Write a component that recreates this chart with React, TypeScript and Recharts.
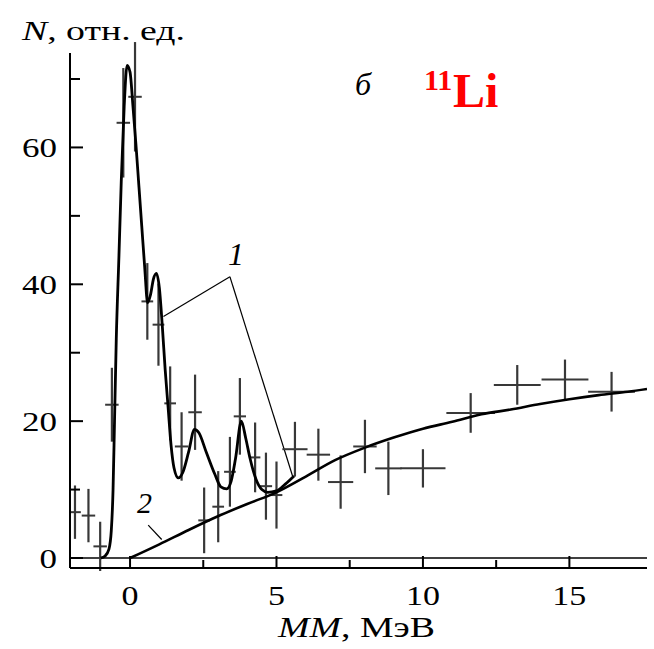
import { ComposedChart, Line, Scatter, ErrorBar, XAxis, YAxis, ReferenceLine } from 'recharts'

// curve 1 — resonance fit
const fitMM = [-1.0, -0.85, -0.72, -0.64, -0.58, -0.53, -0.47, -0.38, -0.3, -0.2, -0.1, 0.0, 0.1, 0.2, 0.3, 0.4, 0.5, 0.6, 0.7, 0.8, 0.9, 1.0, 1.1, 1.2, 1.3, 1.4, 1.5, 1.65, 1.8, 2.0, 2.2, 2.35, 2.6, 2.9, 3.1, 3.3, 3.45, 3.6, 3.8, 3.95, 4.1, 4.3, 4.5, 4.7, 5.0, 5.3, 5.6]
const fitN = [0, 0.3, 1.3, 4, 10, 20, 32, 44, 55, 66, 72, 71, 66, 60.5, 54.5, 48.5, 42.5, 37.3, 38.5, 40.8, 41.6, 39.5, 34, 27.5, 22, 16.5, 13.2, 11.7, 12.5, 15.5, 18.8, 18.3, 15.5, 12.2, 10.4, 10.1, 11.2, 14.5, 20.0, 17.5, 14.5, 11.5, 10.0, 9.6, 9.8, 10.8, 12.0]

// curve 2 — background
const bgMM = [0, 1, 2, 3, 4, 5, 6, 7, 8, 9, 10, 11, 12, 13, 14, 15, 16, 17, 17.65]
const bgN = [0, 2.0, 4.1, 6.1, 7.9, 9.6, 11.9, 14.3, 16.1, 17.6, 18.9, 19.9, 21.0, 21.7, 22.5, 23.2, 23.8, 24.3, 24.7]

// experimental points
const ptMM = [-1.88, -1.42, -1.02, -0.62, -0.23, 0.17, 0.59, 0.97, 1.37, 1.76, 2.22, 2.53, 3.01, 3.41, 3.75, 4.27, 4.64, 5.0, 5.63, 6.43, 7.19, 8.02, 8.82, 10.0, 11.63, 13.22, 14.85, 16.44]
const ptN = [6.7, 6.2, 1.7, 22.4, 63.6, 67.4, 37.5, 34.1, 22.6, 16.3, 21.3, 5.5, 7.5, 12.6, 20.7, 14.7, 10.5, 9.2, 15.9, 15.1, 11.1, 16.3, 13.1, 13.1, 21.2, 25.3, 26.1, 24.3]
const ptErrN = [3.9, 3.9, 3.6, 5.4, 8, 8, 5.6, 6, 5.4, 5, 5.5, 4.8, 5.2, 5.1, 5.6, 5.1, 4.9, 4.9, 4, 3.8, 3.9, 3.9, 3.9, 2.8, 2.9, 2.9, 2.9, 2.9]
const ptErrMM = [0.2, 0.23, 0.23, 0.23, 0.23, 0.23, 0.2, 0.2, 0.2, 0.23, 0.23, 0.2, 0.2, 0.2, 0.21, 0.18, 0.21, 0.2, 0.43, 0.4, 0.43, 0.4, 0.45, 0.77, 0.83, 0.8, 0.8, 0.8]

const xTicks = [0, 2.5, 5, 7.5, 10, 12.5, 15]
const yTicks = [0, 10, 20, 30, 40, 50, 60, 70]

// pointer lines for labels 1 and 2
const pointer1a = [{ x: 1.14, y: 35.3 }, { x: 3.41, y: 41.1 }]
const pointer1b = [{ x: 3.41, y: 41.1 }, { x: 5.57, y: 11.7 }]
const pointer2 = [{ x: 0.62, y: 4.8 }, { x: 1.08, y: 2.7 }]

const fitData = fitMM.map((mm, i) => ({ mm, n: fitN[i] }))
const bgData = bgMM.map((mm, i) => ({ mm, n: bgN[i] }))
const points = ptMM.map((mm, i) => ({ mm, n: ptN[i], ey: ptErrN[i], ex: ptErrMM[i] }))

const serif = '"Liberation Serif", "Times New Roman", serif'

function XTick({ x, y, payload }: any) {
  const v = payload.value
  const major = v % 5 === 0
  const label = String(v)
  return (
    <g>
      <line x1={x} x2={x} y1={y} y2={y - (major ? 12 : 8)} stroke="#000" strokeWidth={2} />
      {major && (
        <text x={x} y={y + 37} textAnchor="middle" fontFamily={serif} fontSize={28} fill="#000"
          textLength={label.length * 17} lengthAdjust="spacingAndGlyphs">{label}</text>
      )}
    </g>
  )
}

function YTick({ x, y, payload }: any) {
  const v = payload.value
  const major = v % 20 === 0
  const label = String(v)
  return (
    <g>
      <line x1={x} x2={x + (major ? 13 : 10)} y1={y} y2={y} stroke="#000" strokeWidth={2} />
      {major && (
        <text x={x - 13} y={y + 9.5} textAnchor="end" fontFamily={serif} fontSize={28} fill="#000"
          textLength={label.length * 17.5} lengthAdjust="spacingAndGlyphs">{label}</text>
      )}
    </g>
  )
}

export default function App() {
  return (
    <div style={{ position: 'absolute', left: 0, top: 0, width: 654, height: 649, background: '#fff' }}>
      <ComposedChart width={654} height={649} margin={{ top: 53, right: 7, bottom: 0, left: 0 }}>
        <XAxis dataKey="mm" type="number" domain={[-2.05, 17.65]} ticks={xTicks} interval={0}
          allowDataOverflow height={81} tickSize={0} tickMargin={0} tickLine={false}
          axisLine={{ stroke: '#000', strokeWidth: 2 }} tick={<XTick />} />
        <YAxis dataKey="n" type="number" domain={[-1.46, 73.8]} ticks={yTicks} interval={0}
          allowDataOverflow width={70} tickSize={0} tickMargin={0} tickLine={false}
          axisLine={{ stroke: '#000', strokeWidth: 2 }} tick={<YTick />} />
        <ReferenceLine y={0} stroke="#000" strokeWidth={1.5} />
        <ReferenceLine segment={pointer1a} stroke="#000" strokeWidth={1.2} />
        <ReferenceLine segment={pointer1b} stroke="#000" strokeWidth={1.2} />
        <ReferenceLine segment={pointer2} stroke="#000" strokeWidth={1.2} />
        <Scatter data={points} isAnimationActive={false} shape={() => <g />}>
          <ErrorBar dataKey="ey" direction="y" width={0} stroke="#383838" strokeWidth={2.2} isAnimationActive={false} />
          <ErrorBar dataKey="ex" direction="x" width={0} stroke="#383838" strokeWidth={2} isAnimationActive={false} />
        </Scatter>
        <Line data={bgData} dataKey="n" type="monotone" stroke="#000" strokeWidth={2.6} dot={false} isAnimationActive={false} />
        <Line data={fitData} dataKey="n" type="monotone" stroke="#000" strokeWidth={2.8} dot={false} isAnimationActive={false} />
      </ComposedChart>
      <svg width={654} height={649} style={{ position: 'absolute', left: 0, top: 0, pointerEvents: 'none' }}>
        <text x={22} y={40} fontFamily={serif} fontSize={28} fill="#000" textLength={163} lengthAdjust="spacingAndGlyphs">
          <tspan fontStyle="italic">N</tspan>, отн. ед.
        </text>
        <text x={278} y={637} fontFamily={serif} fontSize={29} fill="#000" textLength={157} lengthAdjust="spacingAndGlyphs">
          <tspan fontStyle="italic">MM</tspan>, МэВ
        </text>
        <text x={355} y={95} fontFamily={serif} fontSize={32} fontStyle="italic" fill="#000">б</text>
        <text x={424} y={90} fontFamily={serif} fontSize={30} fontWeight="bold" fill="#ff0000">11</text>
        <text x={453} y={107} fontFamily={serif} fontSize={48} fontWeight="bold" fill="#ff0000">Li</text>
        <text x={228} y={265} fontFamily={serif} fontSize={32} fontStyle="italic" fill="#000">1</text>
        <text x={137} y={513} fontFamily={serif} fontSize={30} fontStyle="italic" fill="#000">2</text>
      </svg>
    </div>
  )
}
